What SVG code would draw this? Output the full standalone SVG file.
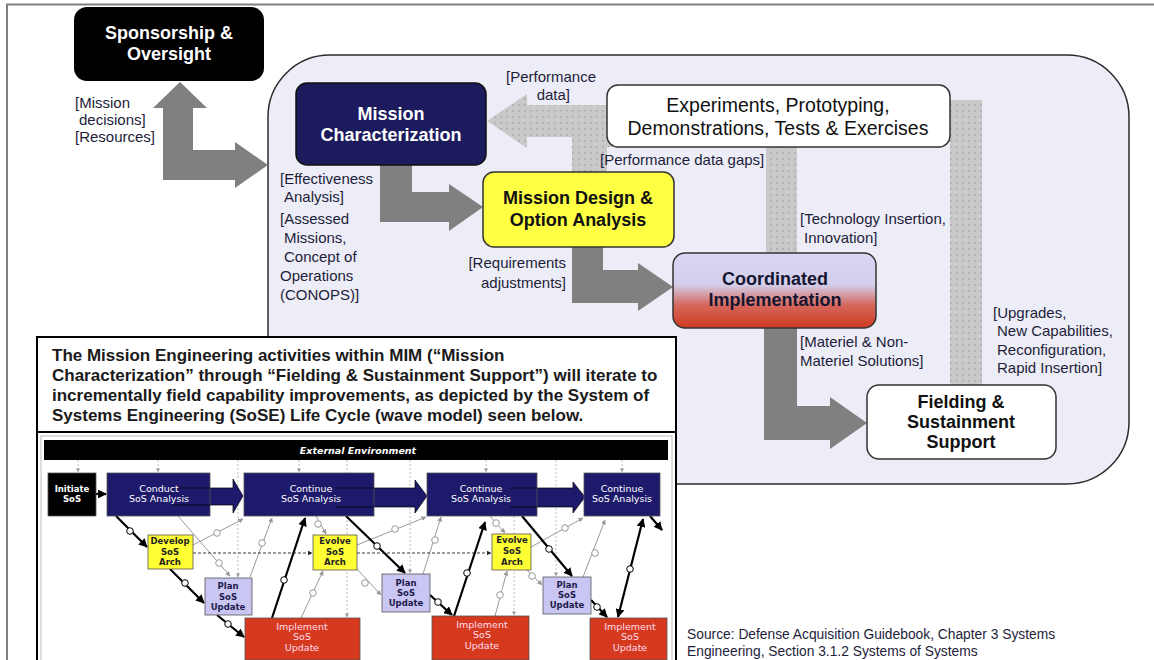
<svg xmlns="http://www.w3.org/2000/svg" width="1154" height="660" viewBox="0 0 1154 660">
  <defs>
    <pattern id="dots" width="6" height="6" patternUnits="userSpaceOnUse">
      <rect width="6" height="6" fill="#c9c9c9"/>
      <rect x="2" y="2" width="1.6" height="1.6" fill="#a9a9a9"/>
    </pattern>
    <linearGradient id="coordFill" x1="0" y1="0" x2="0" y2="1">
      <stop offset="0" stop-color="#d9d7f3"/>
      <stop offset="0.42" stop-color="#d3cfec"/>
      <stop offset="0.7" stop-color="#d5665a"/>
      <stop offset="1" stop-color="#d03a20"/>
    </linearGradient>
    <marker id="ahBlack" viewBox="0 0 10 10" refX="9" refY="5" markerWidth="4" markerHeight="4" orient="auto-start-reverse">
      <path d="M0,0 L10,5 L0,10 z" fill="#000"/>
    </marker>
    <marker id="ahGray" viewBox="0 0 10 10" refX="9" refY="5" markerWidth="5" markerHeight="5" orient="auto">
      <path d="M0,0 L10,5 L0,10 z" fill="#999"/>
    </marker>
    <marker id="ahDash" viewBox="0 0 10 10" refX="9" refY="5" markerWidth="5" markerHeight="5" orient="auto">
      <path d="M0,0 L10,5 L0,10 z" fill="#222"/>
    </marker>
  </defs>
  <style>
    .lbl { font-family: "Liberation Sans", Arial, sans-serif; font-size: 15px; fill: #1d1d3a; }
    .node-b { font-family: "Liberation Sans", Arial, sans-serif; font-size: 18px; font-weight: bold; text-anchor: middle; }
    .node-r { font-family: "Liberation Sans", Arial, sans-serif; font-size: 19.5px; text-anchor: middle; fill: #111; }
    .note { font-family: "Liberation Sans", Arial, sans-serif; font-size: 17px; font-weight: bold; fill: #1a1a1a; }
    .src { font-family: "Liberation Sans", Arial, sans-serif; font-size: 13.8px; fill: #1d1d3a; }
    .bigarrow { fill: #808080; }
    .band { fill: url(#dots); }
    .w { font-family: "DejaVu Sans", Verdana, sans-serif; font-size: 9.5px; text-anchor: middle; }
    .wb { font-family: "DejaVu Sans", Verdana, sans-serif; font-size: 8.5px; font-weight: bold; text-anchor: middle; }
    .thick { stroke: #000; stroke-width: 2.2; fill: none; }
    .thin { stroke: #9a9a9a; stroke-width: 1; fill: none; }
    .env { stroke: #aaa; stroke-width: 0.8; stroke-dasharray: 2 2; fill: none; }
    .dash { stroke: #222; stroke-width: 0.9; stroke-dasharray: 3 2; fill: none; }
    .ring { fill: #fff; stroke: #000; stroke-width: 1; }
    .ringg { fill: #fff; stroke: #999; stroke-width: 1; }
  </style>

  <rect width="1154" height="660" fill="#fff"/>
  <!-- page frame -->
  <line x1="6" y1="4.5" x2="1154" y2="4.5" stroke="#7f7f7f" stroke-width="2"/>
  <line x1="7" y1="4" x2="7" y2="660" stroke="#7f7f7f" stroke-width="2"/>

  <!-- enclosing MIM boundary -->
  <rect id="mim-boundary" x="268" y="55" width="861" height="429" rx="62" ry="62" fill="#ededf8" stroke="#2b2b2b" stroke-width="1.5"/>

  <!-- connectors -->
  <g id="connectors">
    <!-- Sponsorship <-> Mission Characterization -->
    <polygon class="bigarrow" points="180,82 207,108 193,108 193,150 235,150 235,142 268,165 235,188 235,180 163,180 163,108 153,108"/>
    <!-- Mission Characterization -> Mission Design -->
    <polygon class="bigarrow" points="380,164 412,164 412,192 449,192 449,184 483,207 449,231 449,222 380,222"/>
    <!-- Mission Design -> Coordinated Implementation -->
    <polygon class="bigarrow" points="572,246 603,246 603,270 638,270 638,263 673,287 638,311 638,303 572,303"/>
    <!-- Coordinated Implementation -> Fielding -->
    <polygon class="bigarrow" points="764,328 797,328 797,406 830,406 830,397 867,423 830,449 830,440 764,440"/>

    <!-- dotted feedback bands -->
    <polygon class="band" points="487,121 527,94 527,105 620,105 620,147 607,147 607,172 572,172 572,137 527,137 527,148"/>
    <rect class="band" x="766" y="146" width="31" height="108"/>
    <rect class="band" x="950" y="100" width="32" height="286"/>

    <!-- flow labels -->
    <text class="lbl" x="75" y="108">[Mission</text>
    <text class="lbl" x="79" y="125">decisions]</text>
    <text class="lbl" x="75" y="142">[Resources]</text>

    <text class="lbl" x="506" y="82">[Performance</text>
    <text class="lbl" x="570" y="100" text-anchor="end">data]</text>
    <text class="lbl" x="600" y="165">[Performance data gaps]</text>
    <text class="lbl" x="800" y="224">[Technology Insertion,</text>
    <text class="lbl" x="804" y="243">Innovation]</text>

    <text class="lbl" x="280" y="184">[Effectiveness</text>
    <text class="lbl" x="284" y="202">Analysis]</text>
    <text class="lbl" x="280" y="224">[Assessed</text>
    <text class="lbl" x="284" y="243">Missions,</text>
    <text class="lbl" x="284" y="262">Concept of</text>
    <text class="lbl" x="280" y="281">Operations</text>
    <text class="lbl" x="280" y="300">(CONOPS)]</text>

    <text class="lbl" x="566" y="268" text-anchor="end">[Requirements</text>
    <text class="lbl" x="566" y="288" text-anchor="end">adjustments]</text>

    <text class="lbl" x="800" y="347">[Materiel &amp; Non-</text>
    <text class="lbl" x="800" y="366">Materiel Solutions]</text>

    <text class="lbl" x="993" y="318">[Upgrades,</text>
    <text class="lbl" x="997" y="336">New Capabilities,</text>
    <text class="lbl" x="997" y="355">Reconfiguration,</text>
    <text class="lbl" x="997" y="373">Rapid Insertion]</text>
  </g>

  <!-- nodes -->
  <g id="sponsorship">
    <rect x="74" y="7" width="190" height="74" rx="13" fill="#000"/>
    <text class="node-b" x="169" y="39" fill="#fff">Sponsorship &amp;</text>
    <text class="node-b" x="169" y="60" fill="#fff">Oversight</text>
  </g>

  <g id="mission-characterization">
    <rect x="296" y="83" width="190" height="82" rx="11" fill="#1c1b5e" stroke="#111" stroke-width="1.5"/>
    <text class="node-b" x="391" y="120" fill="#fff">Mission</text>
    <text class="node-b" x="391" y="141" fill="#fff">Characterization</text>
  </g>

  <g id="experiments">
    <rect x="607" y="85" width="343" height="62" rx="11" fill="#fff" stroke="#333" stroke-width="1.5"/>
    <text class="node-r" x="778" y="112">Experiments, Prototyping,</text>
    <text class="node-r" x="778" y="135">Demonstrations, Tests &amp; Exercises</text>
  </g>

  <g id="mission-design">
    <rect x="483" y="172" width="191" height="75" rx="11" fill="#ffff44" stroke="#333" stroke-width="1.5"/>
    <text class="node-b" x="578" y="204" fill="#111">Mission Design &amp;</text>
    <text class="node-b" x="578" y="226" fill="#111">Option Analysis</text>
  </g>

  <g id="coordinated-implementation">
    <rect x="673" y="253" width="203" height="75" rx="12" fill="url(#coordFill)" stroke="#333" stroke-width="1.5"/>
    <text class="node-b" x="775" y="285" fill="#151530">Coordinated</text>
    <text class="node-b" x="775" y="306" fill="#151530">Implementation</text>
  </g>

  <g id="fielding">
    <rect x="867" y="385" width="189" height="74" rx="12" fill="#fff" stroke="#333" stroke-width="1.5"/>
    <text class="node-b" x="961" y="408" fill="#111">Fielding &amp;</text>
    <text class="node-b" x="961" y="428" fill="#111">Sustainment</text>
    <text class="node-b" x="961" y="448" fill="#111">Support</text>
  </g>

  <!-- explanatory note -->
  <g id="note">
    <rect x="37" y="337" width="639" height="95" fill="#fff" stroke="#000" stroke-width="2"/>
    <text class="note" x="52" y="361">The Mission Engineering activities within MIM (“Mission</text>
    <text class="note" x="52" y="381">Characterization” through “Fielding &amp; Sustainment Support”) will iterate to</text>
    <text class="note" x="52" y="401">incrementally field capability improvements, as depicted by the System of</text>
    <text class="note" x="52" y="421">Systems Engineering (SoSE) Life Cycle (wave model) seen below.</text>
  </g>

  <!-- SoSE wave model -->
  <g id="wave-model">
    <rect x="37" y="432" width="639" height="232" fill="#fff" stroke="#000" stroke-width="2"/>
    <rect x="41" y="436" width="631" height="230" fill="none" stroke="#bdbdbd" stroke-width="1"/>
    <rect x="44" y="440" width="624" height="20" fill="#000"/>
    <text x="358" y="454" font-family="DejaVu Sans, Verdana, sans-serif" font-size="9.5" font-style="italic" font-weight="bold" fill="#fff" text-anchor="middle">External Environment</text>

    <!-- environment drops -->
    <g class="env-lines">
      <line class="env" x1="78" y1="460" x2="78" y2="472" marker-end="url(#ahGray)"/>
      <line class="env" x1="158" y1="460" x2="158" y2="472" marker-end="url(#ahGray)"/>
      <line class="env" x1="238" y1="460" x2="238" y2="577" marker-end="url(#ahGray)"/>
      <line class="env" x1="299" y1="460" x2="299" y2="472" marker-end="url(#ahGray)"/>
      <line class="env" x1="347" y1="460" x2="347" y2="617" marker-end="url(#ahGray)"/>
      <line class="env" x1="410" y1="460" x2="410" y2="573" marker-end="url(#ahGray)"/>
      <line class="env" x1="486" y1="460" x2="486" y2="472" marker-end="url(#ahGray)"/>
      <line class="env" x1="514" y1="516" x2="514" y2="615" marker-end="url(#ahGray)"/>
      <line class="env" x1="556" y1="460" x2="556" y2="576" marker-end="url(#ahGray)"/>
      <line class="env" x1="622" y1="460" x2="622" y2="472" marker-end="url(#ahGray)"/>
    </g>

    <!-- analysis track arrows -->
    <polygon points="173,488 233,488 233,479 243,496 233,513 233,505 173,505" fill="#1d1a6b" stroke="#000" stroke-width="0.7"/>
    <polygon points="335,488 415,488 415,480 427,496 415,513 415,507 335,507" fill="#1d1a6b" stroke="#000" stroke-width="0.7"/>
    <polygon points="510,488 573,488 573,482 585,497 573,513 573,507 510,507" fill="#1d1a6b" stroke="#000" stroke-width="0.7"/>

    <!-- thin feedback lines -->
    <g class="thin-links">
      <line class="thin" x1="178" y1="516" x2="230" y2="576" marker-end="url(#ahGray)"/>
      <circle class="ringg" cx="219" cy="563" r="3.3"/>
      <line class="thin" x1="193" y1="545" x2="243" y2="519" marker-end="url(#ahGray)"/>
      <circle class="ringg" cx="217" cy="533" r="3.3"/>
      <line class="thin" x1="250" y1="577" x2="272" y2="518" marker-end="url(#ahGray)"/>
      <circle class="ringg" cx="262" cy="543" r="3.3"/>
      <line class="thin" x1="316" y1="516" x2="326" y2="534" marker-end="url(#ahGray)"/>
      <circle class="ringg" cx="318" cy="524" r="3.3"/>
      <line class="thin" x1="301" y1="618" x2="323" y2="571" marker-end="url(#ahGray)"/>
      <circle class="ringg" cx="313" cy="593" r="3.3"/>
      <line class="thin" x1="357" y1="545" x2="426" y2="517" marker-end="url(#ahGray)"/>
      <circle class="ringg" cx="395" cy="529" r="3.3"/>
      <line class="thin" x1="357" y1="569" x2="381" y2="595" marker-end="url(#ahGray)"/>
      <circle class="ringg" cx="365" cy="583" r="3.3"/>
      <line class="thin" x1="423" y1="574" x2="441" y2="517" marker-end="url(#ahGray)"/>
      <circle class="ringg" cx="435" cy="540" r="3.3"/>
      <line class="thin" x1="490" y1="516" x2="505" y2="533" marker-end="url(#ahGray)"/>
      <circle class="ringg" cx="496" cy="523" r="3.3"/>
      <line class="thin" x1="495" y1="616" x2="507" y2="571" marker-end="url(#ahGray)"/>
      <circle class="ringg" cx="500" cy="595" r="3.3"/>
      <line class="thin" x1="527" y1="570" x2="542" y2="585" marker-end="url(#ahGray)"/>
      <circle class="ringg" cx="532" cy="576" r="3.3"/>
      <line class="thin" x1="531" y1="547" x2="583" y2="518" marker-end="url(#ahGray)"/>
      <circle class="ringg" cx="565" cy="528" r="3.3"/>
      <line class="thin" x1="583" y1="577" x2="605" y2="520" marker-end="url(#ahGray)"/>
      <circle class="ringg" cx="595" cy="553" r="3.3"/>
    </g>

    <!-- architecture hand-offs -->
    <line class="dash" x1="193" y1="553" x2="312" y2="553" marker-end="url(#ahDash)"/>
    <line class="dash" x1="357" y1="553" x2="491" y2="553" marker-end="url(#ahDash)"/>

    <!-- main wave path -->
    <g class="thick-links">
      <line class="thick" x1="96" y1="494" x2="106" y2="494" marker-end="url(#ahBlack)"/>
      <line class="thick" x1="116" y1="516" x2="147" y2="547" marker-end="url(#ahBlack)"/>
      <circle class="ring" cx="130" cy="531" r="3.3"/>
      <line class="thick" x1="170" y1="569" x2="204" y2="603" marker-end="url(#ahBlack)"/>
      <circle class="ring" cx="185" cy="583" r="3.3"/>
      <line class="thick" x1="217" y1="615" x2="244" y2="637" marker-end="url(#ahBlack)"/>
      <circle class="ring" cx="228" cy="624" r="3.3"/>
      <line class="thick" x1="272" y1="618" x2="305" y2="518" marker-end="url(#ahBlack)"/>
      <circle class="ring" cx="284" cy="580" r="3.3"/>
      <line class="thick" x1="346" y1="516" x2="405" y2="573" marker-end="url(#ahBlack)"/>
      <circle class="ring" cx="377" cy="546" r="3.3"/>
      <line class="thick" x1="430" y1="595" x2="452" y2="615" marker-end="url(#ahBlack)"/>
      <circle class="ring" cx="438" cy="602" r="3.3"/>
      <line class="thick" x1="454" y1="616" x2="485" y2="522" marker-end="url(#ahBlack)"/>
      <circle class="ring" cx="467" cy="573" r="3.3"/>
      <line class="thick" x1="522" y1="516" x2="572" y2="576" marker-end="url(#ahBlack)"/>
      <circle class="ring" cx="549" cy="549" r="3.3"/>
      <line class="thick" x1="591" y1="600" x2="607" y2="617" marker-end="url(#ahBlack)"/>
      <circle class="ring" cx="597" cy="607" r="3.3"/>
      <line class="thick" x1="618" y1="617" x2="643" y2="519" marker-start="url(#ahBlack)" marker-end="url(#ahBlack)"/>
      <circle class="ring" cx="630" cy="569" r="3.3"/>
      <line class="thick" x1="650" y1="516" x2="662" y2="530" marker-end="url(#ahBlack)"/>
    </g>

    <!-- wave boxes -->
    <g id="w-initiate">
      <rect x="48" y="473" width="48" height="43" fill="#000" stroke="#555" stroke-width="0.8"/>
      <text class="wb" x="72" y="492" fill="#fff">Initiate</text>
      <text class="wb" x="72" y="502" fill="#fff">SoS</text>
    </g>
    <g id="w-conduct">
      <rect x="107" y="473" width="103" height="43" fill="#1d1a6b" stroke="#555" stroke-width="0.8"/>
      <line x1="173" y1="488" x2="210" y2="488" stroke="#000" stroke-width="0.7"/>
      <line x1="173" y1="505" x2="210" y2="505" stroke="#000" stroke-width="0.7"/>
      <text class="w" x="159" y="492" fill="#fff">Conduct</text>
      <text class="w" x="159" y="502" fill="#fff">SoS Analysis</text>
    </g>
    <g id="w-continue-1">
      <rect x="244" y="473" width="130" height="43" fill="#1d1a6b" stroke="#555" stroke-width="0.8"/>
      <line x1="335" y1="488" x2="374" y2="488" stroke="#000" stroke-width="0.7"/>
      <line x1="335" y1="507" x2="374" y2="507" stroke="#000" stroke-width="0.7"/>
      <text class="w" x="311" y="492" fill="#fff">Continue</text>
      <text class="w" x="311" y="502" fill="#fff">SoS Analysis</text>
    </g>
    <g id="w-continue-2">
      <rect x="427" y="473" width="110" height="43" fill="#1d1a6b" stroke="#555" stroke-width="0.8"/>
      <line x1="510" y1="488" x2="537" y2="488" stroke="#000" stroke-width="0.7"/>
      <line x1="510" y1="507" x2="537" y2="507" stroke="#000" stroke-width="0.7"/>
      <text class="w" x="481" y="492" fill="#fff">Continue</text>
      <text class="w" x="481" y="502" fill="#fff">SoS Analysis</text>
    </g>
    <g id="w-continue-3">
      <rect x="584" y="473" width="76" height="43" fill="#1d1a6b" stroke="#555" stroke-width="0.8"/>
      <text class="w" x="622" y="492" fill="#fff">Continue</text>
      <text class="w" x="622" y="502" fill="#fff">SoS Analysis</text>
    </g>
    <g id="w-develop">
      <rect x="148" y="535" width="45" height="34" fill="#ffff33" stroke="#555" stroke-width="0.8"/>
      <text class="wb" x="170" y="544" fill="#222">Develop</text>
      <text class="wb" x="170" y="555" fill="#222">SoS</text>
      <text class="wb" x="170" y="565" fill="#222">Arch</text>
    </g>
    <g id="w-evolve-1">
      <rect x="313" y="535" width="44" height="35" fill="#ffff33" stroke="#555" stroke-width="0.8"/>
      <text class="wb" x="335" y="544" fill="#222">Evolve</text>
      <text class="wb" x="335" y="555" fill="#222">SoS</text>
      <text class="wb" x="335" y="565" fill="#222">Arch</text>
    </g>
    <g id="w-evolve-2">
      <rect x="492" y="534" width="39" height="36" fill="#ffff33" stroke="#555" stroke-width="0.8"/>
      <text class="wb" x="512" y="543" fill="#222">Evolve</text>
      <text class="wb" x="512" y="554" fill="#222">SoS</text>
      <text class="wb" x="512" y="565" fill="#222">Arch</text>
    </g>
    <g id="w-plan-1">
      <rect x="205" y="578" width="47" height="37" fill="#c9c6f4" stroke="#555" stroke-width="0.8"/>
      <text class="wb" x="228" y="589" fill="#1d1a4b">Plan</text>
      <text class="wb" x="228" y="600" fill="#1d1a4b">SoS</text>
      <text class="wb" x="228" y="610" fill="#1d1a4b">Update</text>
    </g>
    <g id="w-plan-2">
      <rect x="382" y="574" width="48" height="38" fill="#c9c6f4" stroke="#555" stroke-width="0.8"/>
      <text class="wb" x="406" y="586" fill="#1d1a4b">Plan</text>
      <text class="wb" x="406" y="596" fill="#1d1a4b">SoS</text>
      <text class="wb" x="406" y="606" fill="#1d1a4b">Update</text>
    </g>
    <g id="w-plan-3">
      <rect x="543" y="577" width="48" height="37" fill="#c9c6f4" stroke="#555" stroke-width="0.8"/>
      <text class="wb" x="567" y="588" fill="#1d1a4b">Plan</text>
      <text class="wb" x="567" y="598" fill="#1d1a4b">SoS</text>
      <text class="wb" x="567" y="608" fill="#1d1a4b">Update</text>
    </g>
    <g id="w-implement-1">
      <rect x="245" y="618" width="115" height="42" fill="#d63a1e" stroke="#555" stroke-width="0.8"/>
      <text class="w" x="302" y="630" fill="#fde">Implement</text>
      <text class="w" x="302" y="640" fill="#fde">SoS</text>
      <text class="w" x="302" y="651" fill="#fde">Update</text>
    </g>
    <g id="w-implement-2">
      <rect x="432" y="616" width="97" height="44" fill="#d63a1e" stroke="#555" stroke-width="0.8"/>
      <text class="w" x="482" y="628" fill="#fde">Implement</text>
      <text class="w" x="482" y="638" fill="#fde">SoS</text>
      <text class="w" x="482" y="649" fill="#fde">Update</text>
    </g>
    <g id="w-implement-3">
      <rect x="590" y="618" width="77" height="42" fill="#d63a1e" stroke="#555" stroke-width="0.8"/>
      <text class="w" x="630" y="630" fill="#fde">Implement</text>
      <text class="w" x="630" y="640" fill="#fde">SoS</text>
      <text class="w" x="630" y="651" fill="#fde">Update</text>
    </g>
  </g>

  <!-- citation -->
  <g id="source">
    <text class="src" x="687" y="639">Source: Defense Acquisition Guidebook, Chapter 3 Systems</text>
    <text class="src" x="687" y="656">Engineering, Section 3.1.2 Systems of Systems</text>
  </g>
</svg>
